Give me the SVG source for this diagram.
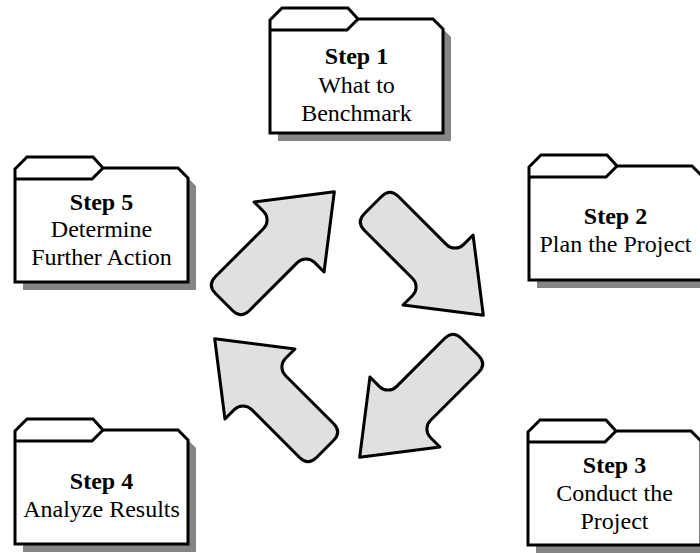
<svg xmlns="http://www.w3.org/2000/svg" xmlns:xlink="http://www.w3.org/1999/xlink" width="700" height="553" viewBox="0 0 700 553">
<style>
.shadow{fill:#858585;stroke:none}
.folder{fill:#ffffff;stroke:#000;stroke-width:3;stroke-linejoin:miter}
.tabline{fill:none;stroke:#000;stroke-width:3}
.arrow{fill:#e0e0e0;stroke:#000;stroke-width:3;stroke-linejoin:round}
text{font-family:"Liberation Serif","Times New Roman",serif;font-size:24px;fill:#000;text-anchor:middle}
.b{font-weight:bold}
</style>
<defs>
<path id="fshadow" class="shadow" d="M8,19 L171,19 L181,29 L181,133 L8,133 Z"/>
<path id="fbody" class="folder" d="M0,12 L12,0 L78,0 L88,11 L163,11 L173,21 L173,125 L0,125 Z"/>
<path id="ftab" class="tabline" d="M0,22 L77,22 L88,11"/>
<path id="arr" class="arrow" d="M12,-24 L80,-24 A12 12 0 0 0 92,-36 L92,-49.5 L156,0 L92,49.5 L92,36 A12 12 0 0 0 80,24 L12,24 Q0,24 0,12 L0,-12 Q0,-24 12,-24 Z"/>
</defs>
<g id="connectors">
<use xlink:href="#arr" transform="translate(224,302) rotate(-45)"/>
<use xlink:href="#arr" transform="rotate(90,347,328) translate(224,302) rotate(-45)"/>
<use xlink:href="#arr" transform="rotate(180,347,324.5) translate(224,302) rotate(-45)"/>
<use xlink:href="#arr" transform="rotate(-90,348,325) translate(224,302) rotate(-45)"/>
</g>
<g id="step1" transform="translate(270,8)">
<use xlink:href="#fshadow"/><use xlink:href="#fbody"/><use xlink:href="#ftab"/>
<text x="86.5" y="56" class="b">Step 1</text>
<text x="86.5" y="85">What to</text>
<text x="86.5" y="113">Benchmark</text>
</g>
<g id="step2" transform="translate(529,155)">
<use xlink:href="#fshadow"/><use xlink:href="#fbody"/><use xlink:href="#ftab"/>
<text x="86.5" y="69" class="b">Step 2</text>
<text x="86.5" y="97">Plan the Project</text>
</g>
<g id="step3" transform="translate(528,420)">
<use xlink:href="#fshadow"/><use xlink:href="#fbody"/><use xlink:href="#ftab"/>
<text x="86.5" y="53" class="b">Step 3</text>
<text x="86.5" y="81">Conduct the</text>
<text x="86.5" y="109">Project</text>
</g>
<g id="step4" transform="translate(15,419)">
<use xlink:href="#fshadow"/><use xlink:href="#fbody"/><use xlink:href="#ftab"/>
<text x="86.5" y="70" class="b">Step 4</text>
<text x="86.5" y="98">Analyze Results</text>
</g>
<g id="step5" transform="translate(15,157)">
<use xlink:href="#fshadow"/><use xlink:href="#fbody"/><use xlink:href="#ftab"/>
<text x="86.5" y="53" class="b">Step 5</text>
<text x="86.5" y="80">Determine</text>
<text x="86.5" y="108">Further Action</text>
</g>
</svg>
